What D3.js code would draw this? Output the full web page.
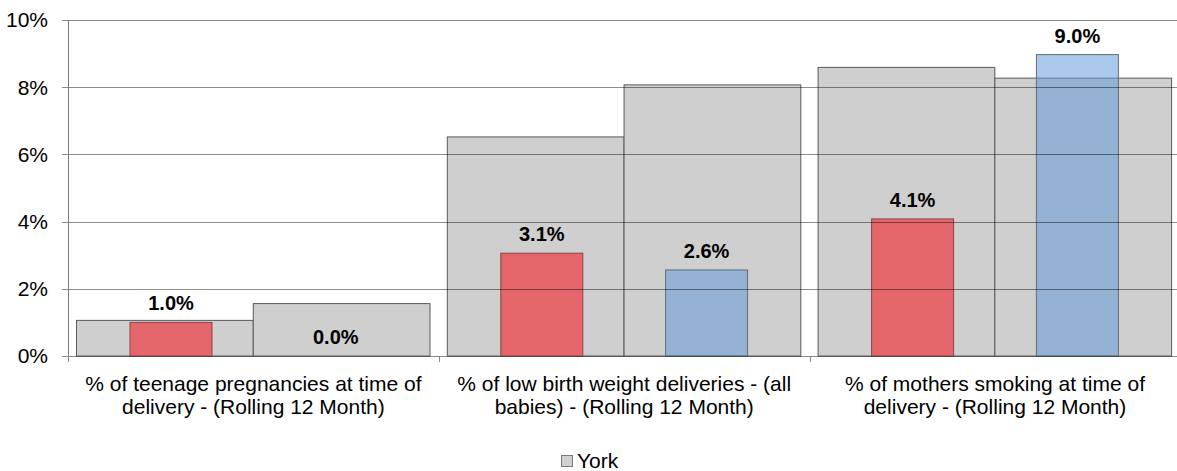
<!DOCTYPE html>
<html>
<head>
<meta charset="utf-8">
<script src="https://cdn.jsdelivr.net/npm/d3@7"></script>
<style>
  html, body { margin: 0; padding: 0; background: #fff; }
  svg { display: block; font-family: Arial, "Liberation Sans", sans-serif; }
</style>
</head>
<body>
<svg id="chart" width="1177" height="471"></svg>
<script>
// ---- data ----
const categories = [
  ["% of teenage pregnancies at time of", "delivery - (Rolling 12 Month)"],
  ["% of low birth weight deliveries - (all", "babies) - (Rolling 12 Month)"],
  ["% of mothers smoking at time of", "delivery - (Rolling 12 Month)"]
];
const yorkA = [1.06, 6.52, 8.59];
const yorkB = [1.56, 8.07, 8.27];
const redValues = [1.0, 3.06, 4.08];
const blueValues = [0.0, 2.56, 8.97];
const yTicks = [0, 2, 4, 6, 8, 10];
const legendLabels = ["York"];

// ---- layout ----
const svg = d3.select("#chart");
const plotLeft = 68, plotTop = 20, plotBottom = 356;
const bandW = 370.8;
const catIdx = categories.map((d, i) => i);

const y = d3.scaleLinear().domain([0, 10]).range([plotBottom, plotTop]);
const x = d3.scaleBand().domain(catIdx).range([plotLeft, plotLeft + bandW * 3]).padding(0);
const xGray = d3.scaleBand().domain(["A", "B"]).range([8.5, 362]).padding(0);
const xColor = d3.scaleBand().domain(["red", "blue"])
  .range([x.bandwidth() / 2 - 164.8, x.bandwidth() / 2 + 164.8])
  .paddingInner(0.5024).paddingOuter(0.2512);

const fmt = v => d3.format(".1f")(v) + "%";

// gray (York) bars
const grayData = [];
catIdx.forEach(i => {
  grayData.push({ c: i, k: "A", v: yorkA[i] });
  grayData.push({ c: i, k: "B", v: yorkB[i] });
});
svg.append("g").selectAll("rect").data(grayData).join("rect")
  .attr("x", d => x(d.c) + xGray(d.k))
  .attr("y", d => y(d.v))
  .attr("width", xGray.bandwidth())
  .attr("height", d => y(0) - y(d.v))
  .attr("fill", "#cfcfcf")
  .attr("stroke", "#5a5a5a")
  .attr("stroke-width", 1);

// coloured bars
const colData = [];
catIdx.forEach(i => {
  colData.push({ c: i, k: "red", v: redValues[i] });
  colData.push({ c: i, k: "blue", v: blueValues[i] });
});
const colFill = { red: "#e4666a", blue: "rgba(100,157,216,0.55)" };
const colStroke = { red: "#8a4446", blue: "#5d6d7e" };
svg.append("g").selectAll("rect").data(colData.filter(d => d.v > 0)).join("rect")
  .attr("x", d => x(d.c) + xColor(d.k))
  .attr("y", d => y(d.v))
  .attr("width", xColor.bandwidth())
  .attr("height", d => y(0) - y(d.v))
  .attr("fill", d => colFill[d.k])
  .attr("stroke", d => colStroke[d.k])
  .attr("stroke-width", 1);

// gridlines on top
svg.append("g").selectAll("line").data(yTicks).join("line")
  .attr("x1", plotLeft - 6).attr("x2", 1177)
  .attr("y1", d => Math.round(y(d)) + 0.5).attr("y2", d => Math.round(y(d)) + 0.5)
  .attr("stroke", "rgba(0,0,0,0.45)")
  .attr("stroke-width", 1);

// y axis line
svg.append("line")
  .attr("x1", plotLeft + 0.5).attr("x2", plotLeft + 0.5)
  .attr("y1", plotTop).attr("y2", plotBottom)
  .attr("stroke", "#7a7a7a");

// y tick labels
svg.append("g").selectAll("text").data(yTicks).join("text")
  .attr("x", plotLeft - 20)
  .attr("y", d => y(d))
  .attr("dy", "0.35em")
  .attr("text-anchor", "end")
  .attr("font-size", 21)
  .attr("fill", "#000")
  .text(d => d + "%");

// x ticks at band boundaries
const bounds = catIdx.map(i => x(i));
svg.append("g").selectAll("line").data(bounds).join("line")
  .attr("x1", d => Math.round(d) + 0.5).attr("x2", d => Math.round(d) + 0.5)
  .attr("y1", plotBottom).attr("y2", plotBottom + 6)
  .attr("stroke", "#8a8a8a");

// x category labels
const xl = svg.append("g").selectAll("text").data(catIdx).join("text")
  .attr("text-anchor", "middle")
  .attr("font-size", 21)
  .attr("fill", "#000");
xl.each(function (i) {
  const t = d3.select(this);
  categories[i].forEach((line, j) => {
    t.append("tspan")
      .attr("x", x(i) + x.bandwidth() / 2)
      .attr("y", 391 + j * 23)
      .text(line);
  });
});

// value labels
svg.append("g").selectAll("text").data(colData).join("text")
  .attr("x", d => x(d.c) + xColor(d.k) + xColor.bandwidth() / 2)
  .attr("y", d => y(d.v) - 12)
  .attr("text-anchor", "middle")
  .attr("font-size", 20)
  .attr("font-weight", "bold")
  .attr("fill", "#000")
  .text(d => fmt(d.v));

// legend
const lg = svg.append("g").attr("transform", "translate(561,455)");
lg.selectAll("rect").data(legendLabels).join("rect")
  .attr("x", 0.5).attr("y", 0.5).attr("width", 11).attr("height", 11)
  .attr("fill", "#cfcfcf").attr("stroke", "#7a7a7a");
lg.selectAll("text").data(legendLabels).join("text")
  .attr("x", 16).attr("y", 12.5)
  .attr("font-size", 21)
  .attr("fill", "#000")
  .text(d => d);
</script>
</body>
</html>
